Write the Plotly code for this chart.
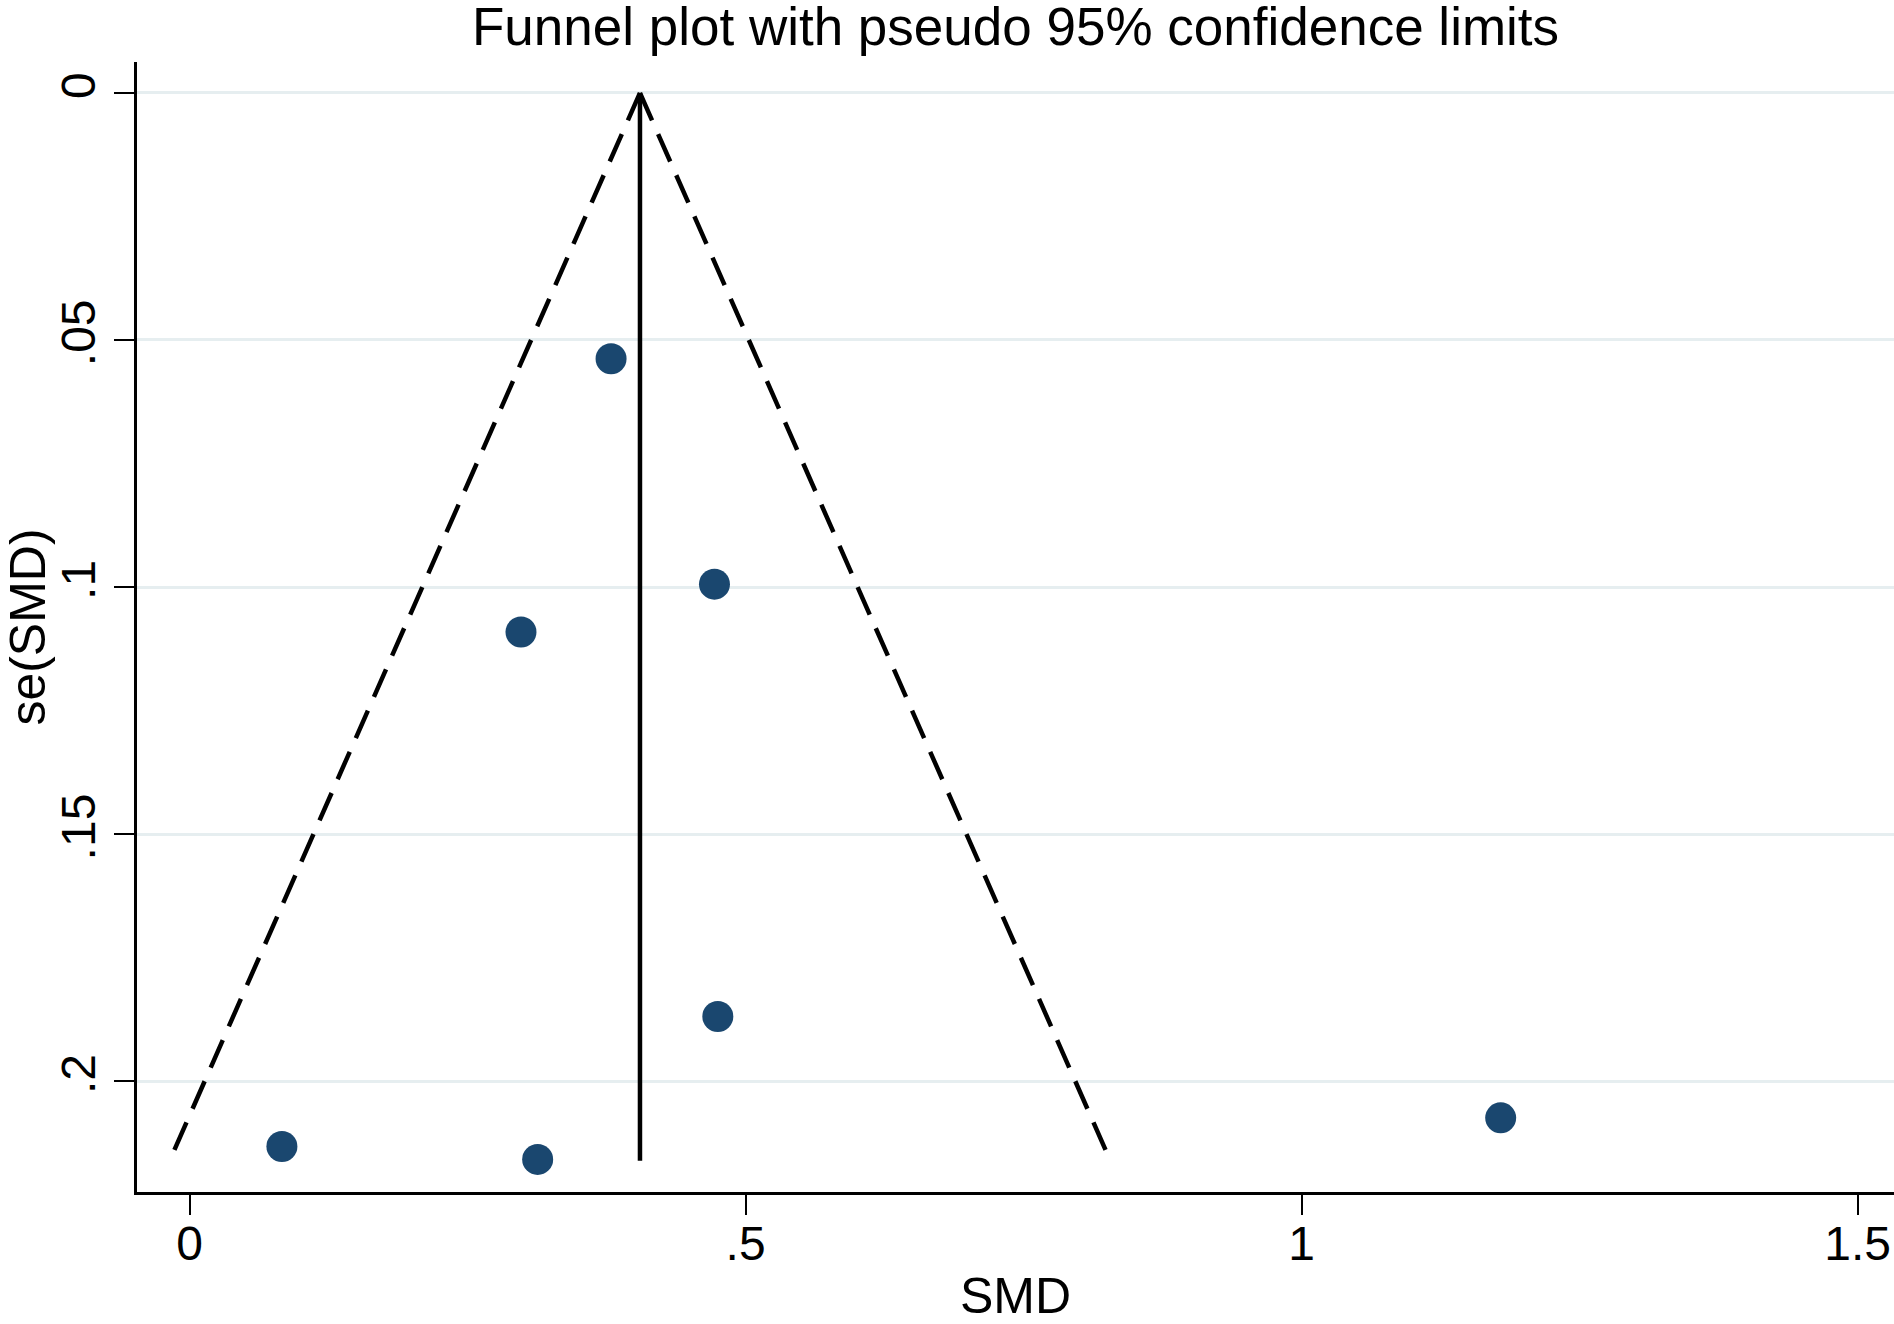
import plotly.graph_objects as go

# study estimates
smd = [0.379, 0.472, 0.298, 0.475, 1.179, 0.083, 0.313]
se_smd = [0.0538, 0.0994, 0.1091, 0.1869, 0.2074, 0.2132, 0.2158]

# pooled estimate and pseudo 95% limits (end points of the funnel lines)
pooled = 0.405
funnel_se = [0.0, 0.2161]
funnel_lower = [0.405, -0.018]
funnel_upper = [0.405, 0.828]

x_ticks = [0, 0.5, 1, 1.5]
x_labels = ["0", ".5", "1", "1.5"]
y_ticks = [0, 0.05, 0.1, 0.15, 0.2]
y_labels = ["0", ".05", ".1", ".15", ".2"]

FONT = "Liberation Sans, Arial, Helvetica, sans-serif"

fig = go.Figure()

fig.add_trace(go.Scatter(
    x=funnel_lower, y=funnel_se, mode="lines",
    line=dict(color="black", width=4.5, dash="30px,15px"),
    hoverinfo="skip", showlegend=False))
fig.add_trace(go.Scatter(
    x=funnel_upper, y=funnel_se, mode="lines",
    line=dict(color="black", width=4.5, dash="30px,15px"),
    hoverinfo="skip", showlegend=False))
fig.add_trace(go.Scatter(
    x=[pooled, pooled], y=funnel_se, mode="lines",
    line=dict(color="black", width=4.5),
    hoverinfo="skip", showlegend=False))

fig.add_trace(go.Scatter(
    x=smd, y=se_smd, mode="markers",
    marker=dict(size=31, color="#1a476f"),
    showlegend=False))

fig.update_layout(
    width=1894, height=1324,
    margin=dict(l=137, r=0, t=62, b=116),
    paper_bgcolor="white", plot_bgcolor="white",
    font=dict(family=FONT, color="black", size=48),
    title=dict(text="Funnel plot with pseudo 95% confidence limits",
               x=0.5, xref="paper", y=1 - 26 / 1324, yref="container",
               yanchor="middle", xanchor="center",
               font=dict(size=53, color="black", family=FONT)),
)

fig.update_xaxes(
    range=[-0.0473, 1.5327],
    tickvals=x_ticks, ticktext=x_labels,
    ticks="outside", ticklen=20, tickwidth=2, tickcolor="black",
    showline=True, linecolor="black", linewidth=3,
    showgrid=False, zeroline=False,
    tickfont=dict(size=48), ticklabelstandoff=-13,
    title=dict(text="SMD", font=dict(size=50), standoff=19),
)
fig.update_yaxes(
    range=[0.2224, -0.00625],
    tickvals=y_ticks, ticktext=y_labels, tickangle=-90,
    ticks="outside", ticklen=20, tickwidth=2, tickcolor="black",
    showline=True, linecolor="black", linewidth=3,
    showgrid=True, gridcolor="#e6eef0", gridwidth=3, zeroline=False,
    tickfont=dict(size=48),
    title=dict(text="se(SMD)", font=dict(size=50), standoff=17),
)

fig.write_html("out.html", config={"displayModeBar": False},
               post_script="document.body.style.margin='0';"
                           "document.body.style.overflow='hidden';")
